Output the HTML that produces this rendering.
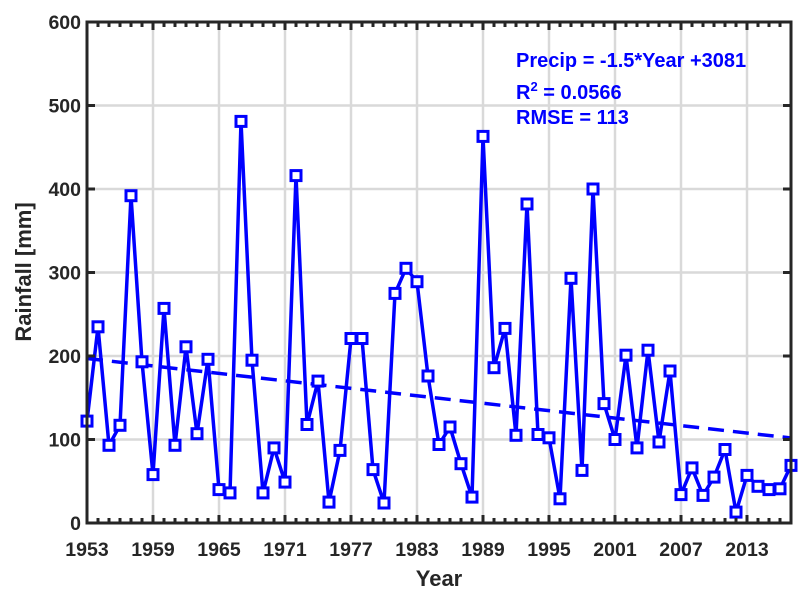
<!DOCTYPE html>
<html><head><meta charset="utf-8"><style>
html,body{margin:0;padding:0;background:#fff;}
svg{display:block;font-family:"Liberation Sans",Arial,sans-serif;font-weight:bold;}
</style></head><body>
<svg width="804" height="601" viewBox="0 0 804 601" xmlns="http://www.w3.org/2000/svg">
<defs>
<marker id="m" markerUnits="userSpaceOnUse" markerWidth="16" markerHeight="16" refX="8" refY="8" overflow="visible">
<rect x="3" y="3" width="10" height="10" fill="#fff" stroke="#0000ff" stroke-width="3"/>
</marker>
</defs>
<rect x="87" y="22" width="704" height="501" fill="#fff"/>
<g stroke="#d9d9d9" stroke-width="2.5">
<line x1="153" y1="22" x2="153" y2="523"/><line x1="219" y1="22" x2="219" y2="523"/>
<line x1="285" y1="22" x2="285" y2="523"/><line x1="351" y1="22" x2="351" y2="523"/>
<line x1="417" y1="22" x2="417" y2="523"/><line x1="483" y1="22" x2="483" y2="523"/>
<line x1="549" y1="22" x2="549" y2="523"/><line x1="615" y1="22" x2="615" y2="523"/>
<line x1="681" y1="22" x2="681" y2="523"/><line x1="747" y1="22" x2="747" y2="523"/>
<line x1="87" y1="439.5" x2="791" y2="439.5"/><line x1="87" y1="356" x2="791" y2="356"/>
<line x1="87" y1="272.5" x2="791" y2="272.5"/><line x1="87" y1="189" x2="791" y2="189"/>
<line x1="87" y1="105.5" x2="791" y2="105.5"/>
</g>
<line x1="87" y1="358.5" x2="791" y2="438" stroke="#0000ff" stroke-width="3.5" stroke-dasharray="16 9"/>
<polyline fill="none" stroke="#0000ff" stroke-width="3.5" stroke-linejoin="round" marker-start="url(#m)" marker-mid="url(#m)" marker-end="url(#m)" points="87,421.1 98,326.8 109,445.3 120,425.3 131,195.7 142,361.8 153,474.6 164,308.4 175,445.3 186,346.8 197,433.7 208,359.3 219,489.6 230,492.9 241,121.4 252,360.2 263,492.9 274,447.9 285,482.1 296,175.6 307,424.5 318,381.1 329,502.1 340,450.4 351,338.5 362,338.5 373,469.6 384,503 395,293.4 406,268.3 417,281.7 428,376 439,444.5 450,427 461,463.7 472,497.1 483,136.4 494,367.7 505,328.4 516,435.3 527,204 538,434.5 549,437.8 560,498.8 571,278.3 582,470.4 593,189 604,403.6 615,439.5 626,355.2 637,447.9 648,350.2 659,442 670,371 681,494.6 692,467.9 703,495.4 714,477.1 725,449.5 736,512.1 747,475.4 758,486.3 769,489.6 780,488.8 791,465.4"/>
<g fill="none" stroke="#262626" stroke-width="3">
<rect x="87" y="22" width="704" height="501"/>
<path d="M98 523v-5M109 523v-5M120 523v-5M131 523v-5M142 523v-5M164 523v-5M175 523v-5M186 523v-5M197 523v-5M208 523v-5M230 523v-5M241 523v-5M252 523v-5M263 523v-5M274 523v-5M296 523v-5M307 523v-5M318 523v-5M329 523v-5M340 523v-5M362 523v-5M373 523v-5M384 523v-5M395 523v-5M406 523v-5M428 523v-5M439 523v-5M450 523v-5M461 523v-5M472 523v-5M494 523v-5M505 523v-5M516 523v-5M527 523v-5M538 523v-5M560 523v-5M571 523v-5M582 523v-5M593 523v-5M604 523v-5M626 523v-5M637 523v-5M648 523v-5M659 523v-5M670 523v-5M692 523v-5M703 523v-5M714 523v-5M725 523v-5M736 523v-5M758 523v-5M769 523v-5M780 523v-5"/>
<path d="M98 22v5M109 22v5M120 22v5M131 22v5M142 22v5M164 22v5M175 22v5M186 22v5M197 22v5M208 22v5M230 22v5M241 22v5M252 22v5M263 22v5M274 22v5M296 22v5M307 22v5M318 22v5M329 22v5M340 22v5M362 22v5M373 22v5M384 22v5M395 22v5M406 22v5M428 22v5M439 22v5M450 22v5M461 22v5M472 22v5M494 22v5M505 22v5M516 22v5M527 22v5M538 22v5M560 22v5M571 22v5M582 22v5M593 22v5M604 22v5M626 22v5M637 22v5M648 22v5M659 22v5M670 22v5M692 22v5M703 22v5M714 22v5M725 22v5M736 22v5M758 22v5M769 22v5M780 22v5"/>
<path d="M153 523v-8M219 523v-8M285 523v-8M351 523v-8M417 523v-8M483 523v-8M549 523v-8M615 523v-8M681 523v-8M747 523v-8"/>
<path d="M153 22v8M219 22v8M285 22v8M351 22v8M417 22v8M483 22v8M549 22v8M615 22v8M681 22v8M747 22v8"/>
<path d="M87 439.5h8M87 356h8M87 272.5h8M87 189h8M87 105.5h8M791 439.5h-8M791 356h-8M791 272.5h-8M791 189h-8M791 105.5h-8"/>
</g>
<g fill="#262626" font-size="19.5" text-anchor="middle">
<text x="87" y="556">1953</text><text x="153" y="556">1959</text><text x="219" y="556">1965</text>
<text x="285" y="556">1971</text><text x="351" y="556">1977</text><text x="417" y="556">1983</text>
<text x="483" y="556">1989</text><text x="549" y="556">1995</text><text x="615" y="556">2001</text>
<text x="681" y="556">2007</text><text x="747" y="556">2013</text>
</g>
<g fill="#262626" font-size="19.5" text-anchor="end">
<text x="81" y="530">0</text><text x="81" y="446.5">100</text><text x="81" y="363">200</text>
<text x="81" y="279.5">300</text><text x="81" y="196">400</text><text x="81" y="112.5">500</text>
<text x="81" y="29">600</text>
</g>
<text x="439" y="586" fill="#262626" font-size="22" text-anchor="middle">Year</text>
<text transform="translate(31,272) rotate(-90)" fill="#262626" font-size="22" text-anchor="middle">Rainfall [mm]</text>
<g fill="#0000ff" font-size="20">
<text x="516" y="67">Precip = -1.5*Year +3081</text>
<text x="516" y="99">R<tspan font-size="13" dy="-8">2</tspan><tspan dy="8"> = 0.0566</tspan></text>
<text x="516" y="124">RMSE = 113</text>
</g>
</svg>
</body></html>
